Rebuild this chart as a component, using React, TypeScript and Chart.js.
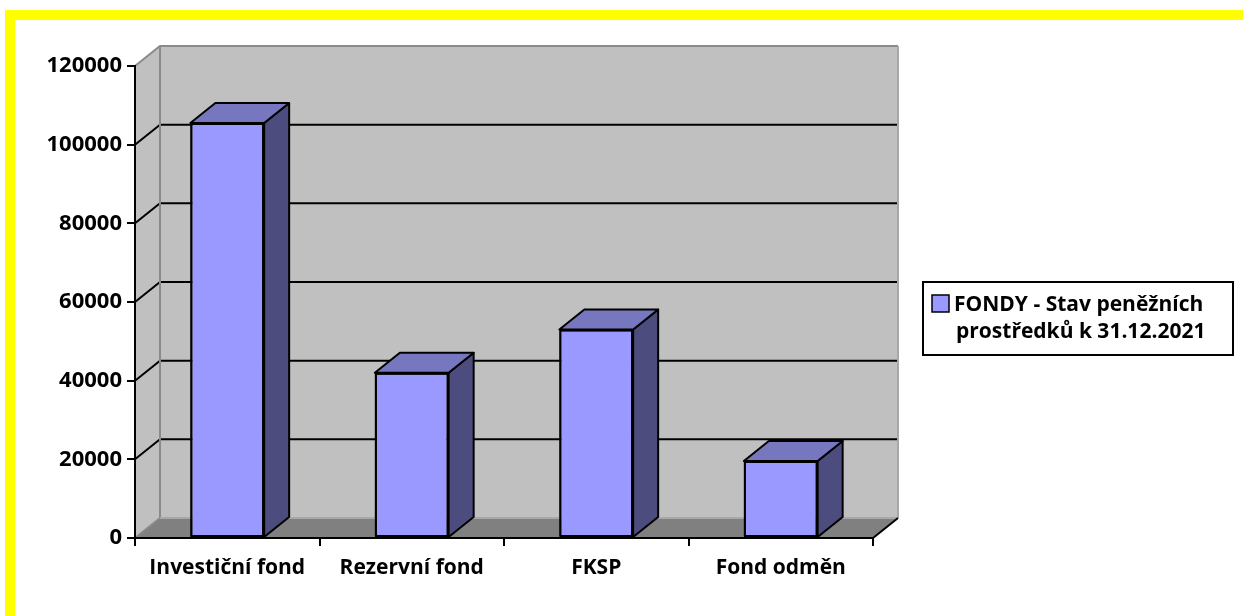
import React, { useEffect, useRef } from "react";
import { Chart, registerables } from "chart.js";

Chart.register(...registerables);

const categories = ["Investiční fond", "Rezervní fond", "FKSP", "Fond odměn"];
const seriesLabelLines = ["FONDY - Stav peněžních", "prostředků k 31.12.2021"];
const fondyValues = [105500, 42000, 53000, 19600];
const yTickValues = [0, 20000, 40000, 60000, 80000, 100000, 120000];

const FONT = "'Open Sans', Lato, sans-serif";
const DX = 25;
const DY = -20;
const FRONT = "#9999ff";
const TOP = "#7777bf";
const SIDE = "#4c4c7e";

const threeD = {
  id: "threeD",
  beforeDraw(chart: any) {
    const { ctx, chartArea: a, scales } = chart;
    const ys = scales.y;
    ctx.save();
    ctx.fillStyle = "#c0c0c0";
    ctx.beginPath();
    ctx.moveTo(a.left, a.top);
    ctx.lineTo(a.left + DX, a.top + DY);
    ctx.lineTo(a.left + DX, a.bottom + DY);
    ctx.lineTo(a.left, a.bottom);
    ctx.closePath();
    ctx.fill();
    ctx.fillRect(a.left + DX, a.top + DY, a.right - a.left, a.bottom - a.top);
    ctx.fillStyle = "#808080";
    ctx.beginPath();
    ctx.moveTo(a.left, a.bottom);
    ctx.lineTo(a.left + DX, a.bottom + DY);
    ctx.lineTo(a.right + DX, a.bottom + DY);
    ctx.lineTo(a.right, a.bottom);
    ctx.closePath();
    ctx.fill();
    ctx.strokeStyle = "#000";
    ctx.lineWidth = 2;
    yTickValues.forEach((v) => {
      if (v === yTickValues[0] || v === yTickValues[yTickValues.length - 1]) return;
      const py = ys.getPixelForValue(v);
      ctx.beginPath();
      ctx.moveTo(a.left, py);
      ctx.lineTo(a.left + DX, py + DY);
      ctx.lineTo(a.right + DX, py + DY);
      ctx.stroke();
    });
    ctx.strokeStyle = "#8a8a8a";
    ctx.lineWidth = 2;
    ctx.beginPath();
    ctx.moveTo(a.left, a.top);
    ctx.lineTo(a.left + DX, a.top + DY);
    ctx.lineTo(a.right + DX, a.top + DY);
    ctx.moveTo(a.left + DX, a.top + DY);
    ctx.lineTo(a.left + DX, a.bottom + DY);
    ctx.moveTo(a.left, a.bottom);
    ctx.lineTo(a.left + DX, a.bottom + DY);
    ctx.stroke();
    ctx.strokeStyle = "#a8a8a8";
    ctx.beginPath();
    ctx.moveTo(a.right + DX, a.top + DY);
    ctx.lineTo(a.right + DX, a.bottom + DY);
    ctx.moveTo(a.left + DX, a.bottom + DY);
    ctx.lineTo(a.right + DX, a.bottom + DY);
    ctx.stroke();
    ctx.strokeStyle = "#000";
    ctx.beginPath();
    ctx.moveTo(a.right, a.bottom);
    ctx.lineTo(a.right + DX, a.bottom + DY);
    ctx.stroke();
    ctx.restore();
  },
  afterDatasetsDraw(chart: any) {
    const { ctx } = chart;
    const meta = chart.getDatasetMeta(0);
    ctx.save();
    ctx.strokeStyle = "#000";
    ctx.lineWidth = 2;
    ctx.lineJoin = "round";
    meta.data.forEach((bar: any) => {
      const { x, y, base, width } = bar.getProps(["x", "y", "base", "width"], true);
      const l = x - width / 2;
      const r = x + width / 2;
      ctx.fillStyle = SIDE;
      ctx.beginPath();
      ctx.moveTo(r, y);
      ctx.lineTo(r + DX, y + DY);
      ctx.lineTo(r + DX, base + DY);
      ctx.lineTo(r, base);
      ctx.closePath();
      ctx.fill();
      ctx.stroke();
      ctx.fillStyle = TOP;
      ctx.beginPath();
      ctx.moveTo(l, y);
      ctx.lineTo(l + DX, y + DY);
      ctx.lineTo(r + DX, y + DY);
      ctx.lineTo(r, y);
      ctx.closePath();
      ctx.fill();
      ctx.stroke();
      ctx.strokeRect(l + 1, y + 1, width - 2, base - y - 2);
    });
    ctx.restore();
  },
  afterDraw(chart: any) {
    const { ctx } = chart;
    ctx.save();
    ctx.strokeStyle = "#000";
    ctx.lineWidth = 2;
    ctx.strokeRect(923, 282, 310, 73);
    ctx.fillStyle = FRONT;
    ctx.fillRect(932, 295, 17, 17);
    ctx.lineWidth = 1.5;
    ctx.strokeRect(932, 295, 17, 17);
    ctx.fillStyle = "#000";
    ctx.font = `bold 21px ${FONT}`;
    ctx.textBaseline = "alphabetic";
    ctx.textAlign = "left";
    ctx.fillText(seriesLabelLines[0], 954, 311);
    ctx.fillText(seriesLabelLines[1], 956, 338);
    ctx.restore();
  },
};

export default function App() {
  const ref = useRef<HTMLCanvasElement | null>(null);
  useEffect(() => {
    if (!ref.current) return;
    const chart = new Chart(ref.current, {
      type: "bar",
      data: {
        labels: categories,
        datasets: [
          {
            label: seriesLabelLines.join(" "),
            data: fondyValues,
            backgroundColor: FRONT,
            borderColor: "#000",
            borderWidth: 2,
            categoryPercentage: 0.8,
            barPercentage: 0.5,
          },
        ],
      },
      options: {
        animation: false,
        responsive: false,
        devicePixelRatio: 1,
        layout: { padding: { top: 66, right: 370, bottom: 0, left: 0 } },
        plugins: { legend: { display: false }, tooltip: { enabled: false } },
        scales: {
          x: {
            afterFit: (s: any) => {
              s.height = 78;
            },
            grid: {
              offset: true,
              drawOnChartArea: false,
              drawTicks: true,
              tickLength: 8,
              color: "#000",
              lineWidth: 2,
            },
            border: { display: true, color: "#000", width: 2 },
            ticks: {
              color: "#000",
              padding: 9,
              maxRotation: 0,
              font: { family: FONT, size: 21, weight: "bold" },
            },
          },
          y: {
            min: 0,
            max: 120000,
            afterFit: (s: any) => {
              s.width = 135;
            },
            afterBuildTicks: (s: any) => {
              s.ticks = yTickValues.map((v) => ({ value: v }));
            },
            grid: {
              drawOnChartArea: false,
              drawTicks: true,
              tickLength: 8,
              color: "#000",
              lineWidth: 2,
            },
            border: { display: true, color: "#000", width: 2 },
            ticks: {
              color: "#000",
              padding: 5,
              font: { family: FONT, size: 22, weight: "bold" },
              callback: (v: any) => String(v),
            },
          },
        },
      },
      plugins: [threeD],
    });
    return () => chart.destroy();
  }, []);
  return (
    <div style={{ position: "absolute", left: 0, top: 0, width: 1243, height: 616, background: "#fff", overflow: "hidden" }}>
      <canvas ref={ref} width={1243} height={616} style={{ position: "absolute", left: 0, top: 0 }} />
      <div
        style={{
          position: "absolute",
          left: 5,
          top: 10,
          right: 0,
          bottom: 0,
          borderTop: "10px solid #ffff00",
          borderLeft: "10px solid #ffff00",
          pointerEvents: "none",
        }}
      />
    </div>
  );
}
